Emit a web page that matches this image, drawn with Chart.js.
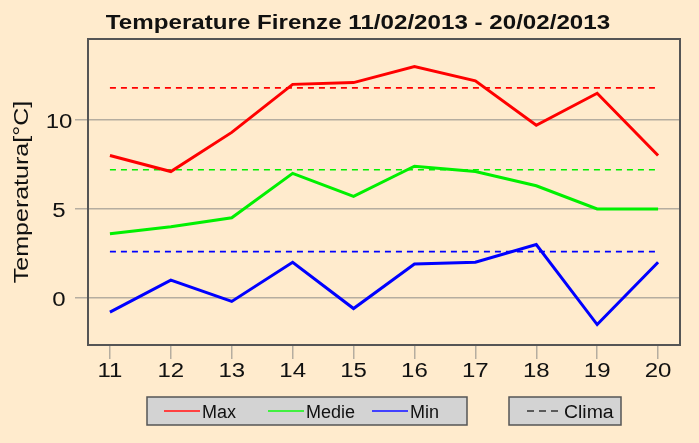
<!DOCTYPE html>
<html>
<head>
<meta charset="utf-8">
<script src="https://cdn.jsdelivr.net/npm/chart.js@4/dist/chart.umd.min.js"></script>
<style>
  html, body { margin: 0; padding: 0; background: #ffebcd; }
  #wrap { width: 699px; height: 443px; }
</style>
</head>
<body>
<div id="wrap"><canvas id="chart"></canvas></div>
<script>
const days = [11, 12, 13, 14, 15, 16, 17, 18, 19, 20];
const tMax = [8.0, 7.1, 9.3, 12.0, 12.1, 13.0, 12.2, 9.7, 11.5, 8.0];
const tMedie = [3.6, 4.0, 4.5, 7.0, 5.7, 7.4, 7.1, 6.3, 5.0, 5.0];
const tMin = [-0.8, 1.0, -0.2, 2.0, -0.6, 1.9, 2.0, 3.0, -1.5, 2.0];
const climaMax = 11.8;
const climaMedie = 7.2;
const climaMin = 2.6;
const yTicks = [0, 5, 10];
const titleText = 'Temperature Firenze 11/02/2013 - 20/02/2013';
const yTitle = 'Temperatura[°C]';

const FONT = '"Liberation Sans", Arial, Helvetica, sans-serif';
const BG = '#ffebcd';
const INK = '#111';

const toPoints = (vals) => vals.map((v, i) => ({ x: days[i], y: v }));
const flatLine = (v) => [{ x: days[0], y: v }, { x: days[days.length - 1], y: v }];

const solid = (label, data, color) => ({
  label, data: toPoints(data), borderColor: color, borderWidth: 3,
  pointRadius: 0, tension: 0, fill: false,
});
const dashed = (label, v, color) => ({
  label, data: flatLine(v), borderColor: color, borderWidth: 1.6,
  borderDash: [6, 5], pointRadius: 0, fill: false,
});

// text drawn a little wider than the font's own proportions
function wideText(ctx, text, x, y, font, sx, align, baseline, angle) {
  ctx.save();
  ctx.translate(x, y);
  if (angle) ctx.rotate(angle);
  ctx.scale(sx, 1);
  ctx.font = font;
  ctx.fillStyle = INK;
  ctx.textAlign = align;
  ctx.textBaseline = baseline;
  ctx.fillText(text, 0, 0);
  ctx.restore();
}

// frame, title, tick labels and the two boxed legends
const decorations = {
  id: 'decorations',
  beforeDraw(chart) {
    const { ctx, width, height } = chart;
    ctx.save();
    ctx.fillStyle = BG;
    ctx.fillRect(0, 0, width, height);
    ctx.restore();
  },
  afterDraw(chart) {
    const { ctx, chartArea: a, scales } = chart;
    ctx.save();
    ctx.strokeStyle = '#555';
    ctx.lineWidth = 2;
    ctx.strokeRect(a.left, a.top, a.right - a.left, a.bottom - a.top);
    ctx.restore();

    wideText(ctx, titleText, 358, 29, 'bold 21px ' + FONT, 1.15, 'center', 'alphabetic');

    const tickFont = '20px ' + FONT;
    days.forEach((d) => {
      wideText(ctx, String(d), scales.x.getPixelForValue(d), 377, tickFont, 1.2, 'center', 'alphabetic');
    });
    yTicks.forEach((v) => {
      wideText(ctx, String(v), 59, scales.y.getPixelForValue(v) + 8, tickFont, 1.2, 'center', 'alphabetic');
    });
    wideText(ctx, yTitle, 28, (a.top + a.bottom) / 2, '20px ' + FONT, 1.25, 'center', 'alphabetic', -Math.PI / 2);

    ctx.save();
    const boxY = 397, boxH = 28, midY = boxY + boxH / 2;
    ctx.fillStyle = '#d3d3d3';
    ctx.strokeStyle = '#555';
    ctx.lineWidth = 1.5;
    ctx.fillRect(147, boxY, 320, boxH);
    ctx.strokeRect(147, boxY, 320, boxH);
    ctx.fillRect(509, boxY, 112, boxH);
    ctx.strokeRect(509, boxY, 112, boxH);

    const entries = [
      { x: 164, color: '#ff4040', label: 'Max' },
      { x: 268, color: '#40f040', label: 'Medie' },
      { x: 372, color: '#4040ff', label: 'Min' },
    ];
    entries.forEach((e) => {
      ctx.strokeStyle = e.color;
      ctx.lineWidth = 2;
      ctx.beginPath();
      ctx.moveTo(e.x, midY);
      ctx.lineTo(e.x + 36, midY);
      ctx.stroke();
      wideText(ctx, e.label, e.x + 38, 418, '18px ' + FONT, 1.0, 'left', 'alphabetic');
    });
    ctx.strokeStyle = '#333';
    ctx.lineWidth = 1.5;
    ctx.setLineDash([7, 5]);
    ctx.beginPath();
    ctx.moveTo(527, midY);
    ctx.lineTo(560, midY);
    ctx.stroke();
    ctx.setLineDash([]);
    wideText(ctx, 'Clima', 564, 418, '18px ' + FONT, 1.08, 'left', 'alphabetic');
    ctx.restore();
  },
};

new Chart(document.getElementById('chart'), {
  type: 'line',
  data: {
    datasets: [
      solid('Max', tMax, '#ff0000'),
      solid('Medie', tMedie, '#00f000'),
      solid('Min', tMin, '#0000ff'),
      dashed('Clima Max', climaMax, '#ff0000'),
      dashed('Clima Medie', climaMedie, '#00f000'),
      dashed('Clima Min', climaMin, '#0000ff'),
    ],
  },
  options: {
    responsive: true,
    maintainAspectRatio: false,
    animation: false,
    layout: { padding: { left: 0, right: 19, top: 39, bottom: 53 } },
    plugins: {
      legend: { display: false },
      title: { display: false },
      tooltip: { enabled: false },
    },
    scales: {
      x: {
        type: 'linear',
        min: 10.64,
        max: 20.36,
        afterBuildTicks: (s) => { s.ticks = days.map((d) => ({ value: d })); },
        afterFit: (s) => { s.height = 45; },
        border: { display: false },
        grid: { drawOnChartArea: false, drawTicks: true, tickLength: 14, color: '#b5ada0', lineWidth: 1.5 },
        ticks: { display: false },
      },
      y: {
        min: -2.65,
        max: 14.55,
        afterBuildTicks: (s) => { s.ticks = yTicks.map((v) => ({ value: v })); },
        afterFit: (s) => { s.width = 88; },
        border: { display: false },
        grid: { color: '#b5ada0', lineWidth: 1.5, tickLength: 13 },
        ticks: { display: false },
      },
    },
  },
  plugins: [decorations],
});
</script>
</body>
</html>
